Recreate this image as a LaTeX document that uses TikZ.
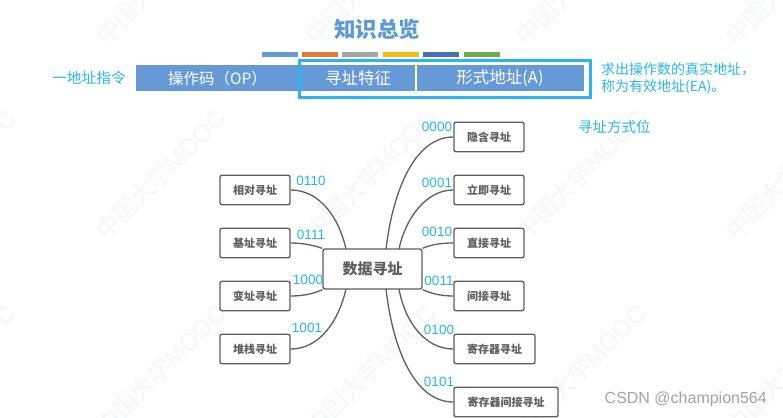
\documentclass[tikz,border=0pt]{standalone}
\usepackage{fontspec}
\setmainfont{Noto Sans CJK SC}
\newfontfamily\latinf{Liberation Sans}
\definecolor{ttl}{HTML}{5B9BD5}
\definecolor{barb}{HTML}{659AD6}
\definecolor{cy}{HTML}{29B6F0}
\definecolor{ink}{HTML}{5F5F5F}
\definecolor{wm}{HTML}{F5F6F7}
\definecolor{sa}{HTML}{E47B34}
\definecolor{sb}{HTML}{A5A5A5}
\definecolor{sc}{HTML}{F2BC12}
\definecolor{sd}{HTML}{4A6DBA}
\definecolor{se}{HTML}{72AB4A}
\definecolor{sigc}{HTML}{A3A3A3}
\tikzset{
 modebox/.style={draw=ink,line width=1.4pt,rounded corners=2pt,fill=white,minimum height=29.5pt,inner sep=0pt,text=ink,font=\fontsize{11}{12}\selectfont\bfseries},
 link/.style={draw=ink,line width=1.3pt},
 code/.style={text=cy,inner sep=0pt,font=\latinf\fontsize{13.5}{15}\selectfont},
 seg/.style={fill=barb,draw=white,line width=1pt,text=white,minimum height=27pt,inner sep=0pt,font=\fontsize{16.5}{18}\selectfont},
 note/.style={text=cy,inner sep=0pt,align=left},
 swatch/.style={minimum width=36pt,minimum height=5pt,inner sep=0pt},
 mark wm/.style={text=wm,inner sep=0pt,anchor=west,rotate=45,font=\latinf\fontsize{24}{26}\selectfont},
}
\newcommand{\wmtext}{{\fontspec{Noto Sans CJK SC}中国大学}MOOC}
\begin{document}
\begin{tikzpicture}[x=1pt,y=-1pt]
\useasboundingbox (0,0) rectangle (783,417);
\fill[white] (0,0) rectangle (783,417);
\begin{scope}
\clip (0,0) rectangle (783,417);
\foreach \y in {40,235,430}{\foreach \x in {-110,100,310,520,730}{
  \node[mark wm] at (\x,\y) {\wmtext};
}}
\end{scope}
\node[text=ttl,inner sep=0pt,font=\fontsize{21.5}{23}\selectfont\bfseries] (title) at (377,29) {知识总览};
\node[swatch,fill=barb] (s1) at (279.5,54.5) {};
\node[swatch,fill=sa] (s2) at (319.5,54.5) {};
\node[swatch,fill=sb] (s3) at (360,54.5) {};
\node[swatch,fill=sc] (s4) at (401,54.5) {};
\node[swatch,fill=sd] (s5) at (441,54.5) {};
\node[swatch,fill=se] (s6) at (482,54.5) {};
\node[seg,minimum width=165pt,font=\fontsize{15.5}{17}\selectfont] (op) at (217.5,78.5) {操作码（OP）};
\node[seg,minimum width=115pt] (tz) at (358,78.5) {寻址特征};
\node[seg,minimum width=168pt] (ad) at (500,78.5) {形式地址(A)};
\node[draw=cy,line width=2.2pt,minimum width=291pt,minimum height=37pt,inner sep=0pt] (frame) at (445,79) {};
\node[note,font=\fontsize{14.7}{16}\selectfont] (lead) at (89,78) {一地址指令};
\node[note,anchor=west,font=\fontsize{14}{17}\selectfont] (ea) at (601,78.5) {求出操作数的真实地址，\\称为有效地址(EA)。};
\node[note,anchor=west,font=\fontsize{14.5}{16}\selectfont] (bits) at (578,127) {寻址方式位};
\node[modebox,minimum width=99pt,minimum height=40pt,font=\fontsize{15}{16}\selectfont\bfseries] (c) at (372.5,269) {数据寻址};
\node[modebox,minimum width=70pt] (l1) at (255,190) {相对寻址};
\node[modebox,minimum width=70pt] (l2) at (255,243) {基址寻址};
\node[modebox,minimum width=70pt] (l3) at (255,296) {变址寻址};
\node[modebox,minimum width=70pt] (l4) at (255,349) {堆栈寻址};
\node[modebox,minimum width=70pt] (r1) at (489,137) {隐含寻址};
\node[modebox,minimum width=70pt] (r2) at (489,190) {立即寻址};
\node[modebox,minimum width=70pt] (r3) at (489,243) {直接寻址};
\node[modebox,minimum width=70pt] (r4) at (489,296) {间接寻址};
\node[modebox,minimum width=81pt] (r5) at (494.5,349) {寄存器寻址};
\node[modebox,minimum width=104pt] (r6) at (506,402) {寄存器间接寻址};
\coordinate (ctl) at (346,249);\coordinate (cbl) at (346,289);
\coordinate (cto) at (386,249);\coordinate (cti) at (399,249);
\coordinate (cbo) at (386,289);\coordinate (cbi) at (399,289);
\draw[link] (l1.east) .. controls (320,190) and (339,218) .. (ctl);
\draw[link] (l2.east) .. controls (305,243) and (315,246) .. (c.north west);
\draw[link] (l3.east) .. controls (305,296) and (315,293) .. (c.south west);
\draw[link] (l4.east) .. controls (320,349) and (339,320) .. (cbl);
\draw[link] (r1.west) .. controls (415,137) and (393,190) .. (cto);
\draw[link] (r2.west) .. controls (425,190) and (405,220) .. (cti);
\draw[link] (r3.west) .. controls (440,243) and (430,245) .. (c.north east);
\draw[link] (r4.west) .. controls (440,296) and (430,293) .. (c.south east);
\draw[link] (r5.west) .. controls (425,349) and (405,322) .. (cbi);
\draw[link] (r6.west) .. controls (415,402) and (393,350) .. (cbo);
\node[code] at (311,181) {0110};
\node[code] at (311,235) {0111};
\node[code] at (308,280) {1000};
\node[code] at (307,328) {1001};
\node[code] at (437,127) {0000};
\node[code] at (437,183) {0001};
\node[code] at (437,232) {0010};
\node[code] at (439,281) {0011};
\node[code] at (439,330) {0100};
\node[code] at (439,382) {0101};
\node[anchor=east,inner sep=0pt,text=sigc,font=\latinf\fontsize{16}{18}\selectfont] (sig) at (767,399) {CSDN @champion564};
\end{tikzpicture}
\end{document}
